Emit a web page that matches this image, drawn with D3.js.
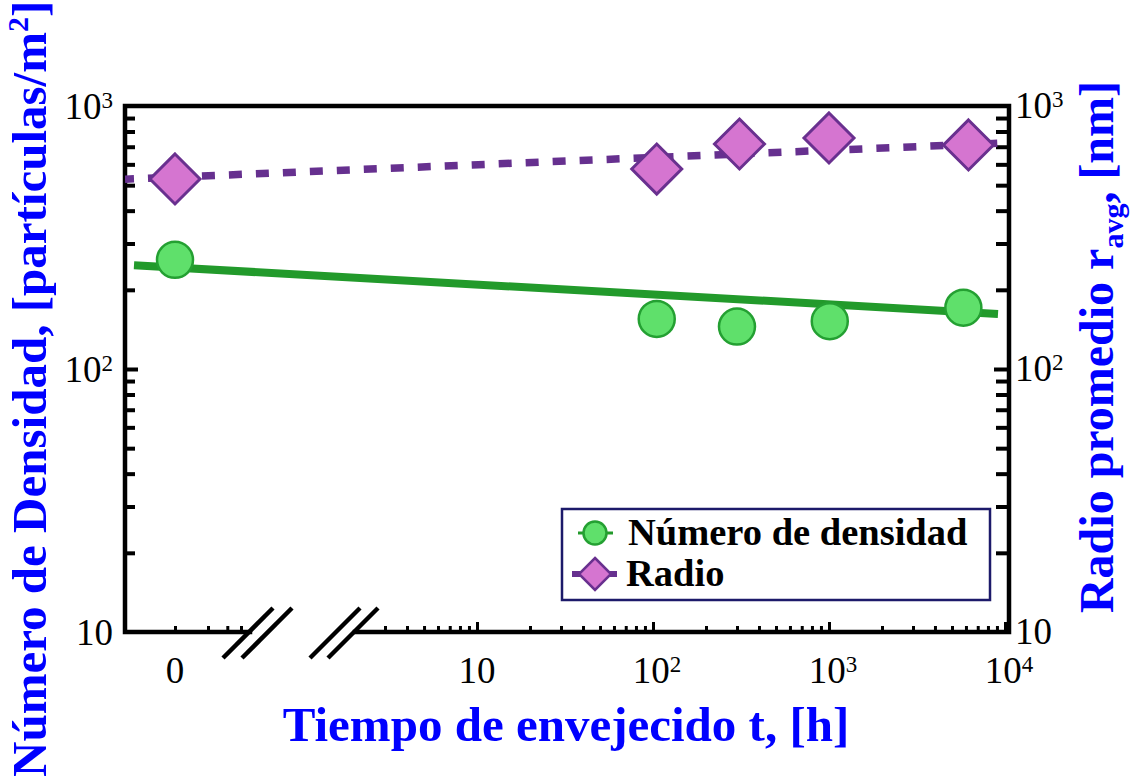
<!DOCTYPE html>
<html>
<head>
<meta charset="utf-8">
<script src="https://cdn.jsdelivr.net/npm/d3@7"></script>
<style>
  html, body { margin: 0; padding: 0; background: #fff; }
  svg { display: block; }
  text { font-family: "Liberation Serif", "Times New Roman", serif; }
</style>
</head>
<body>
<svg id="chart" width="1130" height="784"></svg>
<script>
// Aging time (h) and measured values for each series; t = 0 is the as-received state
const densityTimes  = [0, 105, 300, 1010, 5800];
const densityValues = [260, 155, 145, 152, 171];   // particles / m^2
const radioTimes    = [0, 105, 310, 1000, 6200];
const radioValues   = [528, 576, 717, 756, 711];   // nm

// Fitted trend values at the left and right ends of the plotted range
const densityFit = [248, 162];
const radioFit   = [527, 723];

// Tick labels
const yMajorTicks = [10, 100, 1000];
const xMajorTicks = [10, 100, 1000, 10000];
const zeroLabel = "0";

const legendLabels = ["Número de densidad", "Radio"];

const colors = {
  densityLine: "#229a2b",
  densityFill: "#5fe06b",
  densityStroke: "#24a032",
  radioLine: "#66308f",
  radioFill: "#d575d0",
  radioStroke: "#69308f",
  title: "#0000ff",
  legendBorder: "#1c1a6a"
};

const svg = d3.select("#chart");
const frame = { left: 125, right: 1009, top: 106, bottom: 632 };

// Scales: shared log scale for both vertical axes, broken time axis
const yLeft = d3.scaleLog().domain([10, 1000]).range([frame.bottom, frame.top]);
const yRight = d3.scaleLog().domain([10, 1000]).range([frame.bottom, frame.top]);
const xLog = d3.scaleLog().domain([2, 10000]).range([354, 1005]);
const xZero = d3.scaleLog().domain([1, 4]).range([175, 241]);
const xPos = t => (t === 0 ? xZero(1) : xLog(t));

// minor ticks 2..9 of each decade
function minorTicks(decades) {
  const out = [];
  decades.forEach(d => { for (let k = 2; k <= 9; k++) out.push(d * k); });
  return out;
}
const yMinor = minorTicks([10, 100]);
const xMinor = minorTicks([1, 10, 100, 1000]).filter(v => v >= 3);

function styleAxis(g, w) {
  g.select(".domain").remove();
  g.selectAll(".tick line").attr("stroke", "#000").attr("stroke-width", w);
}

// Left axis ticks (inward)
svg.append("g").attr("transform", `translate(${frame.left},0)`)
  .call(d3.axisRight(yLeft).tickValues(yMinor).tickSize(10).tickFormat(""))
  .call(g => styleAxis(g, 4));
svg.append("g").attr("transform", `translate(${frame.left},0)`)
  .call(d3.axisRight(yLeft).tickValues([100]).tickSize(13).tickFormat(""))
  .call(g => styleAxis(g, 4));

// Right axis ticks (inward)
svg.append("g").attr("transform", `translate(${frame.right},0)`)
  .call(d3.axisLeft(yRight).tickValues(yMinor).tickSize(13).tickFormat(""))
  .call(g => styleAxis(g, 4));
svg.append("g").attr("transform", `translate(${frame.right},0)`)
  .call(d3.axisLeft(yRight).tickValues([100]).tickSize(15).tickFormat(""))
  .call(g => styleAxis(g, 4));

// Bottom axis ticks: log segment
svg.append("g").attr("transform", `translate(0,${frame.bottom})`)
  .call(d3.axisTop(xLog).tickValues(xMinor).tickSize(6).tickFormat(""))
  .call(g => styleAxis(g, 3));
svg.append("g").attr("transform", `translate(0,${frame.bottom})`)
  .call(d3.axisTop(xLog).tickValues(xMajorTicks).tickSize(10).tickFormat(""))
  .call(g => styleAxis(g, 3));
// Bottom axis ticks: t = 0 segment
svg.append("g").attr("transform", `translate(0,${frame.bottom})`)
  .call(d3.axisTop(xZero).tickValues([1, 2, 3, 4]).tickSize(6).tickFormat(""))
  .call(g => styleAxis(g, 3));

// Frame lines
const frameW = 4.5;
const breakA = 250, breakB = 355;
svg.append("path")
  .attr("d", `M${breakA},${frame.bottom} H${frame.left} V${frame.top} H${frame.right} V${frame.bottom} H${breakB}`)
  .attr("fill", "none").attr("stroke", "#000").attr("stroke-width", frameW)
  .attr("stroke-linejoin", "miter").attr("stroke-linecap", "square");

// Axis break marks (two pairs of slanted strokes)
const brk = svg.append("g").attr("stroke", "#000").attr("stroke-width", 4.5);
[223, 242, 310, 328].forEach(x0 => {
  brk.append("line")
    .attr("x1", x0).attr("y1", frame.bottom + 26)
    .attr("x2", x0 + 50).attr("y2", frame.bottom - 24);
});

// Power-of-ten label: "10" with a raised exponent
function powLabel(sel, v) {
  const e = Math.round(Math.log10(v));
  sel.append("tspan").text("10");
  if (e > 1) sel.append("tspan").attr("dy", -11).attr("font-size", 23).text(e);
}
yMajorTicks.forEach(v => {
  const tl = svg.append("text")
    .attr("x", 113).attr("y", yLeft(v) + 13)
    .attr("text-anchor", "end").attr("font-size", 37);
  powLabel(tl, v);
  const tr = svg.append("text")
    .attr("x", 1015).attr("y", yRight(v) + 12)
    .attr("text-anchor", "start").attr("font-size", 37);
  powLabel(tr, v);
});

// X tick labels
xMajorTicks.forEach(v => {
  const t = svg.append("text")
    .attr("x", xLog(v) + (v > 10 ? 4 : 0)).attr("y", 683)
    .attr("text-anchor", "middle").attr("font-size", 37);
  powLabel(t, v);
});
svg.append("text").attr("x", xZero(1)).attr("y", 683)
  .attr("text-anchor", "middle").attr("font-size", 37).text(zeroLabel);

// Plot area clip
svg.append("clipPath").attr("id", "plotClip").append("rect")
  .attr("x", frame.left).attr("y", frame.top)
  .attr("width", frame.right - frame.left).attr("height", frame.bottom - frame.top);
const plot = svg.append("g").attr("clip-path", "url(#plotClip)");

// Radio trend (dashed)
plot.append("line")
  .attr("x1", frame.left).attr("y1", yRight(radioFit[0]))
  .attr("x2", frame.right - 4).attr("y2", yRight(radioFit[1]))
  .attr("stroke", colors.radioLine).attr("stroke-width", 7.5)
  .attr("stroke-dasharray", "13 14").attr("stroke-dashoffset", 4);

// Density trend (solid)
plot.append("line")
  .attr("x1", frame.left + 9).attr("y1", yLeft(densityFit[0]))
  .attr("x2", frame.right - 11).attr("y2", yLeft(densityFit[1]))
  .attr("stroke", colors.densityLine).attr("stroke-width", 8);

// Density markers
plot.selectAll("circle.dens")
  .data(d3.zip(densityTimes, densityValues))
  .join("circle").attr("class", "dens")
  .attr("cx", d => xPos(d[0])).attr("cy", d => yLeft(d[1]))
  .attr("r", 18)
  .attr("fill", colors.densityFill).attr("stroke", colors.densityStroke).attr("stroke-width", 2.5);

// Radio markers (diamonds)
const diamond = r => `M0,${-r} L${r},0 L0,${r} L${-r},0 Z`;
plot.selectAll("path.rad")
  .data(d3.zip(radioTimes, radioValues))
  .join("path").attr("class", "rad")
  .attr("transform", d => `translate(${xPos(d[0])},${yRight(d[1])})`)
  .attr("d", diamond(25))
  .attr("fill", colors.radioFill).attr("stroke", colors.radioStroke).attr("stroke-width", 3);

// Legend
const lg = svg.append("g");
lg.append("rect").attr("x", 562).attr("y", 509).attr("width", 428).attr("height", 91)
  .attr("fill", "#fff").attr("stroke", colors.legendBorder).attr("stroke-width", 2.5);
lg.append("line").attr("x1", 578).attr("x2", 613).attr("y1", 533).attr("y2", 533)
  .attr("stroke", colors.densityLine).attr("stroke-width", 3);
lg.append("circle").attr("cx", 595).attr("cy", 533).attr("r", 11.5)
  .attr("fill", colors.densityFill).attr("stroke", colors.densityStroke).attr("stroke-width", 2.5);
lg.append("line").attr("x1", 572).attr("x2", 617).attr("y1", 574).attr("y2", 574)
  .attr("stroke", colors.radioLine).attr("stroke-width", 6);
lg.append("path").attr("transform", "translate(595,574)").attr("d", diamond(16))
  .attr("fill", colors.radioFill).attr("stroke", colors.radioStroke).attr("stroke-width", 2.5);
lg.append("text").attr("x", 628).attr("y", 545).attr("font-size", 38.5).attr("font-weight", "bold")
  .text(legendLabels[0]);
lg.append("text").attr("x", 626).attr("y", 586).attr("font-size", 38.5).attr("font-weight", "bold")
  .text(legendLabels[1]);

// Axis titles
svg.append("text").attr("x", 566).attr("y", 741)
  .attr("text-anchor", "middle").attr("font-size", 49).attr("font-weight", "bold")
  .attr("fill", colors.title).text("Tiempo de envejecido t, [h]");

const lt = svg.append("text")
  .attr("transform", "translate(46,777) rotate(-90)")
  .attr("text-anchor", "start").attr("font-size", 49).attr("font-weight", "bold")
  .attr("fill", colors.title);
lt.append("tspan").text("Número de Densidad, [partículas/m");
lt.append("tspan").attr("dy", -18).attr("font-size", 30).text("2");
lt.append("tspan").attr("dy", 18).text("]");

const rt = svg.append("text")
  .attr("transform", "translate(1113,347) rotate(-90)")
  .attr("text-anchor", "middle").attr("font-size", 48).attr("font-weight", "bold")
  .attr("fill", colors.title);
rt.append("tspan").text("Radio promedio r");
rt.append("tspan").attr("dy", 10).attr("font-size", 30).text("avg");
rt.append("tspan").attr("dy", -10).text(", [nm]");
</script>
</body>
</html>
